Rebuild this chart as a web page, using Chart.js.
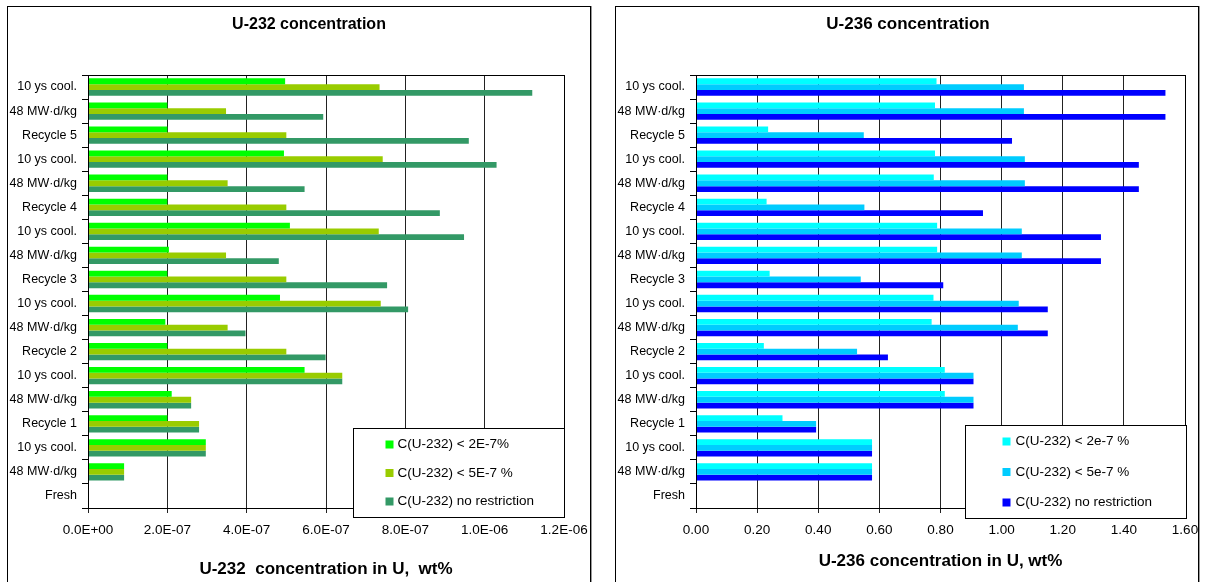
<!DOCTYPE html>
<html>
<head>
<meta charset="utf-8">
<title>U-232 / U-236 concentration</title>
<script src="https://cdn.jsdelivr.net/npm/chart.js@4.4.1/dist/chart.umd.min.js"></script>
<style>
  body { margin: 0; background: #fff; width: 1206px; height: 582px; overflow: hidden; position: relative; }
  .panel { position: absolute; top: 6px; width: 582px; height: 600px; border: 1px solid #000; box-shadow: 1px 0 0 #999; }
  #panel232 { left: 7px; }
  #panel236 { left: 615px; }
  canvas { position: absolute; top: 7px; }
  #u232Chart { left: 8px; }
  #u236Chart { left: 616px; }
</style>
</head>
<body>
<div class="panel" id="panel232"></div>
<div class="panel" id="panel236"></div>
<canvas id="u232Chart" width="582" height="575"></canvas>
<canvas id="u236Chart" width="582" height="575"></canvas>

<script>
// Categorías (de arriba hacia abajo)
const categorias = ['10 ys cool.', '48 MW·d/kg', 'Recycle 5', '10 ys cool.', '48 MW·d/kg', 'Recycle 4',
    '10 ys cool.', '48 MW·d/kg', 'Recycle 3', '10 ys cool.', '48 MW·d/kg', 'Recycle 2',
    '10 ys cool.', '48 MW·d/kg', 'Recycle 1', '10 ys cool.', '48 MW·d/kg', 'Fresh'];

// U-232, wt%
const u232Lim2 = [4.97e-7, 2.0e-7, 2.0e-7, 4.94e-7, 2.0e-7, 2.0e-7, 5.09e-7, 2.04e-7, 2.0e-7,
    4.84e-7, 1.95e-7, 2.0e-7, 5.46e-7, 2.11e-7, 2.0e-7, 2.97e-7, 0.91e-7, 0];
const u232Lim5 = [7.35e-7, 3.48e-7, 5.0e-7, 7.43e-7, 3.52e-7, 5.0e-7, 7.33e-7, 3.48e-7, 5.0e-7,
    7.38e-7, 3.52e-7, 5.0e-7, 6.41e-7, 2.6e-7, 2.8e-7, 2.97e-7, 0.91e-7, 0];
const u232SinLim = [11.2e-7, 5.93e-7, 9.6e-7, 10.3e-7, 5.46e-7, 8.87e-7, 9.48e-7, 4.81e-7, 7.54e-7,
    8.07e-7, 3.97e-7, 5.99e-7, 6.41e-7, 2.6e-7, 2.8e-7, 2.97e-7, 0.91e-7, 0];

// U-236, wt%
const u236Lim2 = [0.787, 0.782, 0.236, 0.782, 0.778, 0.231, 0.789, 0.789, 0.241,
    0.777, 0.771, 0.222, 0.814, 0.814, 0.283, 0.576, 0.576, 0];
const u236Lim5 = [1.073, 1.073, 0.549, 1.076, 1.076, 0.551, 1.066, 1.066, 0.539,
    1.056, 1.053, 0.527, 0.908, 0.908, 0.393, 0.576, 0.576, 0];
const u236SinLim = [1.536, 1.536, 1.034, 1.449, 1.449, 0.939, 1.325, 1.325, 0.809,
    1.151, 1.151, 0.628, 0.908, 0.908, 0.393, 0.576, 0.576, 0];

// Etiquetas de leyenda
const leyenda232 = ['C(U-232) < 2E-7%', 'C(U-232) < 5E-7 %', 'C(U-232) no restriction'];
const leyenda236 = ['C(U-232) < 2e-7 %', 'C(U-232) < 5e-7 %', 'C(U-232) no restriction'];

const fuente = '"Liberation Sans", Arial, sans-serif';
Chart.defaults.font.family = fuente;
Chart.defaults.color = '#000';

// Formato 2.0E-07
function formatoCientifico(v) {
    if (v === 0) return '0.0E+00';
    const partes = v.toExponential(1).split('e');
    const n = parseInt(partes[1], 10);
    return partes[0] + 'E' + (n < 0 ? '-' : '+') + String(Math.abs(n)).padStart(2, '0');
}

// Título arriba (centrado donde lo pone Excel)
const tituloPlugin = {
    id: 'tituloArriba',
    afterDraw(chart, args, opts) {
        const ctx = chart.ctx;
        ctx.save();
        ctx.font = 'bold ' + opts.tam + 'px ' + fuente;
        ctx.fillStyle = '#000';
        ctx.textAlign = 'center';
        ctx.textBaseline = 'middle';
        ctx.fillText(opts.texto, opts.x, opts.y);
        ctx.restore();
    }
};

// Marco del área del gráfico
const marcoPlugin = {
    id: 'marco',
    afterDatasetsDraw(chart) {
        const a = chart.chartArea;
        const ctx = chart.ctx;
        ctx.save();
        ctx.strokeStyle = '#000';
        ctx.lineWidth = 1;
        ctx.strokeRect(Math.round(a.left) + 0.5, Math.round(a.top) + 0.5, Math.round(a.right - a.left), Math.round(a.bottom - a.top));
        ctx.restore();
    }
};

// Leyenda dibujada dentro del área, abajo a la derecha
const leyendaPlugin = {
    id: 'leyendaDentro',
    afterDraw(chart, args, opts) {
        const a = chart.chartArea;
        const ctx = chart.ctx;
        const x = Math.round(a.right + opts.dx - opts.w) + 0.5;
        const y = Math.round(a.bottom + opts.dy - opts.h) + 0.5;
        ctx.save();
        ctx.fillStyle = '#fff';
        ctx.fillRect(x, y, opts.w, opts.h);
        ctx.strokeStyle = '#000';
        ctx.lineWidth = 1;
        ctx.strokeRect(x, y, opts.w, opts.h);
        ctx.font = '13.5px ' + fuente;
        ctx.textBaseline = 'middle';
        chart.data.datasets.forEach((ds, i) => {
            const cy = y + opts.y0 + i * opts.paso;
            ctx.fillStyle = ds.backgroundColor;
            ctx.fillRect(x + opts.mx, cy - 4, 8, 8);
            ctx.fillStyle = '#000';
            ctx.fillText(ds.label, x + opts.tx, cy);
        });
        ctx.restore();
    }
};

function crearGrafico(id, cfg) {
    return new Chart(document.getElementById(id), {
        type: 'bar',
        data: {
            labels: categorias,
            datasets: cfg.series.map((s, i) => ({
                label: cfg.etiquetas[i],
                data: s,
                backgroundColor: cfg.colores[i],
                borderWidth: 0,
                categoryPercentage: 0.72,
                barPercentage: 1.0
            }))
        },
        options: {
            indexAxis: 'y',
            responsive: false,
            animation: false,
            layout: { padding: { left: 0, right: cfg.padDer, top: 68, bottom: 0 } },
            plugins: {
                legend: { display: false },
                tooltip: { enabled: false },
                title: { display: false },
                tituloArriba: { texto: cfg.titulo, x: cfg.tituloCx, y: 17.5, tam: cfg.tituloTam },
                leyendaDentro: cfg.leyenda
            },
            scales: {
                x: {
                    min: 0,
                    max: cfg.max,
                    ticks: {
                        stepSize: cfg.paso,
                        autoSkip: false,
                        maxRotation: 0,
                        padding: 9,
                        font: { size: 13.5 },
                        callback: cfg.formato
                    },
                    grid: { color: '#222', tickLength: 5 },
                    border: { color: '#000' },
                    title: {
                        display: true,
                        text: cfg.tituloX,
                        font: { size: 17, weight: 'bold' },
                        padding: { top: 0, bottom: cfg.padTituloX }
                    },
                    afterFit(scale) {
                        scale.height = 74;
                        scale.paddingLeft = 0;
                        scale.paddingRight = 0;
                    }
                },
                y: {
                    ticks: { autoSkip: false, padding: 5, font: { size: 12.5 } },
                    grid: { offset: true, drawOnChartArea: false, tickLength: 6, color: '#000' },
                    border: { color: '#000' },
                    afterFit(scale) {
                        scale.width = 80;
                        scale.paddingTop = 0;
                        scale.paddingBottom = 0;
                    }
                }
            }
        },
        plugins: [marcoPlugin, leyendaPlugin, tituloPlugin]
    });
}

const grafico232 = crearGrafico('u232Chart', {
    titulo: 'U-232 concentration',
    tituloCx: 301,
    tituloTam: 16,
    tituloX: 'U-232  concentration in U,  wt%',
    series: [u232Lim2, u232Lim5, u232SinLim],
    etiquetas: leyenda232,
    colores: ['#00FF00', '#99CC00', '#339966'],
    max: 1.2e-6,
    paso: 2e-7,
    formato: v => formatoCientifico(v),
    padDer: 26,
    padTituloX: 2.5,
    leyenda: { w: 211, h: 89, dx: 0, dy: 9, y0: 16, paso: 28.5, mx: 32, tx: 44 }
});

const grafico236 = crearGrafico('u236Chart', {
    titulo: 'U-236 concentration',
    tituloCx: 292,
    tituloTam: 17,
    tituloX: 'U-236 concentration in U, wt%',
    series: [u236Lim2, u236Lim5, u236SinLim],
    etiquetas: leyenda236,
    colores: ['#00FFFF', '#00CCFF', '#0000FF'],
    max: 1.6,
    paso: 0.2,
    formato: v => v.toFixed(2),
    padDer: 13,
    padTituloX: 10,
    leyenda: { w: 221, h: 93, dx: 1, dy: 10, y0: 16, paso: 30.5, mx: 37, tx: 50 }
});
</script>
</body>
</html>
